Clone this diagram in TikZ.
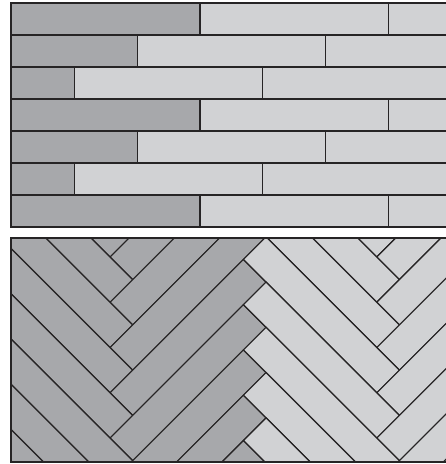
\documentclass[tikz,border=0pt]{standalone}
\definecolor{dk}{RGB}{167,168,171}
\definecolor{lt}{RGB}{209,210,212}
\definecolor{ln}{RGB}{38,36,37}
\begin{document}
\begin{tikzpicture}[x=1pt,y=1pt,
  board/.style={draw=ln, line width=1.2pt, line join=miter},
  frame/.style={draw=ln, line width=1.8pt}]
\useasboundingbox (0,0) rectangle (446,464);
\clip (0,0) rectangle (446,464);
% ---- top panel: staggered planks ----
\begin{scope}
  \clip (11,237) rectangle (470,461);
  \foreach \i in {0,...,6} {
    \pgfmathsetmacro\yt{461-32*\i}
    \pgfmathsetmacro\yb{\yt-32}
    \pgfmathsetmacro\de{200-62.87*mod(\i,3)}
    \filldraw[board, fill=dk] (11,\yb) rectangle (\de,\yt);
    \foreach \j in {0,1,2} {
      \filldraw[board, fill=lt] ({\de+\j*188.6},\yb) rectangle ({\de+(\j+1)*188.6},\yt);
    }
  }
\end{scope}
\draw[frame] (470,461) -- (11,461) -- (11,237) -- (470,237);
% ---- bottom panel: herringbone ----
\begin{scope}
  \clip (11,2) rectangle (470,226);
  \begin{scope}[cm={0.70711,-0.70711,0.70711,0.70711,(-23.3pt,340.3pt)}]
    \foreach \c/\col in {0/dk,1/lt} {
      \foreach \k in {-1,...,11} {
        \filldraw[board, fill=\col] ({\k*32+\c*188.6},{-\k*32+\c*188.6}) rectangle ++(188.6,32);
        \filldraw[board, fill=\col] ({188.6+\k*32+\c*188.6},{-\k*32+\c*188.6}) rectangle ++(32,188.6);
      }
    }
  \end{scope}
\end{scope}
\draw[frame] (470,226) -- (11,226) -- (11,2) -- (470,2);
\end{tikzpicture}
\end{document}
